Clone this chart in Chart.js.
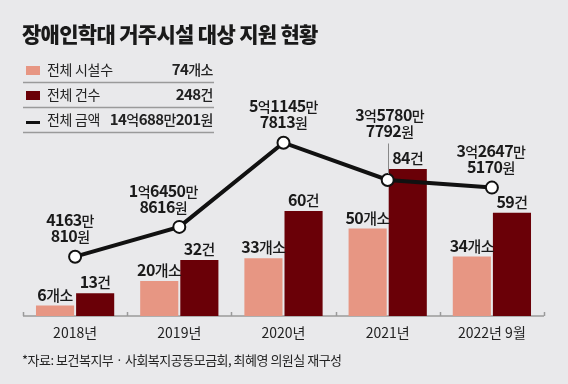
<!DOCTYPE html>
<html>
<head>
<meta charset="utf-8">
<script src="https://cdn.jsdelivr.net/npm/chart.js@4.4.1/dist/chart.umd.min.js"></script>
<style>
    html, body { margin: 0; padding: 0; background: #e9e9eb; }
    #wrap { width: 568px; height: 384px; }
</style>
</head>
<body>
<div id="wrap"><canvas id="myChart" width="568" height="384"></canvas></div>
<script>
const years = ['2018년', '2019년', '2020년', '2021년', '2022년 9월'];
const facilities = [6, 20, 33, 50, 34];
const cases = [13, 32, 60, 84, 59];
// 원 단위
const amounts = [41630810, 164508616, 511457813, 357807792, 326475170];
const legendNames = ['전체 시설수', '전체 건수', '전체 금액'];
const legendTotals = ['74개소', '248건', '14억688만201원'];

const FONT = '"Noto Sans CJK KR", "Noto Sans", sans-serif';
const SALMON = '#e79683';
const DARKRED = '#6a0007';

// 금액 -> ['5억1145만', '7813원']
function wonLabel(v) {
    const eok = Math.floor(v / 1e8);
    const man = Math.floor((v % 1e8) / 1e4);
    const won = v % 1e4;
    return [(eok ? eok + '억' : '') + man + '만', won + '원'];
}

// 숫자는 굵게, 글자는 보통
function drawMixed(c, text, x, y, align, numSize, txtSize) {
    const parts = text.match(/[0-9]+|[^0-9]+/g);
    const fonts = parts.map(p => /[0-9]/.test(p)
        ? 'bold ' + numSize + 'px ' + FONT
        : '500 ' + txtSize + 'px ' + FONT);
    let total = 0;
    const widths = parts.map((p, i) => {
        c.font = fonts[i];
        c.letterSpacing = /[0-9]/.test(p) ? '-0.6px' : '-0.5px';
        const w = c.measureText(p).width;
        total += w;
        return w;
    });
    let sx = align === 'center' ? x - total / 2 : align === 'right' ? x - total : x;
    c.textAlign = 'left';
    c.textBaseline = 'alphabetic';
    parts.forEach((p, i) => {
        c.font = fonts[i];
        c.letterSpacing = /[0-9]/.test(p) ? '-0.6px' : '-0.5px';
        c.fillText(p, sx, y);
        sx += widths[i];
    });
    c.letterSpacing = '0px';
}

const decor = {
    id: 'decor',
    beforeDraw(chart) {
        const c = chart.ctx;
        c.save();
        c.fillStyle = '#e9e9eb';
        c.fillRect(0, 0, chart.width, chart.height);

        // 제목
        c.fillStyle = '#1a1a1a';
        c.font = '900 21px ' + FONT;
        c.letterSpacing = '-0.7px';
        c.textBaseline = 'middle';
        c.fillText('장애인학대 거주시설 대상 지원 현황', 22, 34);
        c.letterSpacing = '0px';

        // 범례
        const rows = [70, 95, 120];
        rows.forEach((ry, i) => {
            if (i === 0) { c.fillStyle = SALMON; c.fillRect(26, ry - 4, 14, 9); }
            if (i === 1) { c.fillStyle = DARKRED; c.fillRect(26, ry - 4, 14, 9); }
            if (i === 2) { c.fillStyle = '#111'; c.fillRect(26, ry + 1, 14, 3); }
            c.fillStyle = '#222';
            c.font = '14px ' + FONT;
            c.letterSpacing = '-0.3px';
            c.textBaseline = 'middle';
            c.fillText(legendNames[i], 47, ry);
            c.letterSpacing = '0px';
            drawMixed(c, legendTotals[i], 213, ry + 5, 'right', 15, 14);
            c.strokeStyle = '#9a9a9a';
            c.lineWidth = 1.5;
            c.beginPath();
            c.moveTo(23, ry + 12.5);
            c.lineTo(214, ry + 12.5);
            c.stroke();
        });

        // 출처
        c.fillStyle = '#222';
        c.font = '13px ' + FONT;
        c.letterSpacing = '-0.5px';
        c.textBaseline = 'middle';
        c.fillText('*자료: 보건복지부 · 사회복지공동모금회, 최혜영 의원실 재구성', 22, 360);
        c.restore();
    },
    beforeDatasetsDraw(chart) {
        // x축 선과 눈금
        const c = chart.ctx;
        const a = chart.chartArea;
        const n = years.length;
        c.save();
        c.strokeStyle = '#9a9a9a';
        c.lineWidth = 1.5;
        c.beginPath();
        c.moveTo(a.left, a.bottom);
        c.lineTo(a.right, a.bottom);
        for (let i = 0; i <= n; i++) {
            const x = Math.round(a.left + i * (a.right - a.left) / n) + 0.5;
            c.moveTo(x, a.bottom);
            c.lineTo(x, a.bottom - 4);
        }
        c.stroke();
        c.restore();
    },
    afterDatasetsDraw(chart) {
        const c = chart.ctx;
        c.save();
        c.fillStyle = '#1a1a1a';
        // 막대 라벨
        const suffix = ['개소', '건'];
        [0, 1].forEach(d => {
            chart.getDatasetMeta(d).data.forEach((bar, i) => {
                const v = chart.data.datasets[d].data[i];
                drawMixed(c, v + suffix[d], bar.x, bar.y - 5, 'center', 16, 15);
            });
        });
        // 금액 라벨
        const lift = [20, 19, 20, 48, 20];
        const dx = [-5, -16, 0, 2, -1];
        chart.getDatasetMeta(2).data.forEach((pt, i) => {
            const lines = wonLabel(amounts[i]);
            const x = pt.x + dx[i];
            const y2 = pt.y - lift[i] + 5.5;
            if (i === 3) {
                c.strokeStyle = '#888';
                c.lineWidth = 1;
                c.beginPath();
                c.moveTo(Math.round(pt.x) + 0.5, y2 + 6);
                c.lineTo(Math.round(pt.x) + 0.5, pt.y - 6);
                c.stroke();
            }
            drawMixed(c, lines[0], x, y2 - 16, 'center', 16, 14);
            drawMixed(c, lines[1], x, y2, 'center', 16, 14);
        });
        c.restore();
    }
};

const ctx = document.getElementById('myChart');
const myChart = new Chart(ctx, {
    type: 'bar',
    data: {
        labels: years,
        datasets: [{
            label: '전체 시설수',
            data: facilities,
            backgroundColor: SALMON,
            yAxisID: 'y',
            order: 1,
            barPercentage: 0.95,
            categoryPercentage: 0.77
        }, {
            label: '전체 건수',
            data: cases,
            backgroundColor: DARKRED,
            yAxisID: 'y',
            order: 1,
            barPercentage: 0.95,
            categoryPercentage: 0.77
        }, {
            type: 'line',
            label: '전체 금액',
            data: amounts,
            yAxisID: 'y2',
            order: 0,
            borderColor: '#111',
            borderWidth: 4,
            tension: 0,
            pointRadius: 6,
            pointBorderWidth: 2,
            pointBackgroundColor: '#fff',
            pointBorderColor: '#111'
        }]
    },
    options: {
        responsive: false,
        animation: false,
        layout: {
            padding: { left: 23, right: 24, top: 60, bottom: 38 }
        },
        plugins: {
            legend: { display: false },
            tooltip: { enabled: false }
        },
        scales: {
            x: {
                grid: { display: false, drawTicks: false },
                border: { display: false },
                ticks: {
                    color: '#222',
                    padding: 8,
                    font: { family: FONT, size: 14 }
                },
                afterFit: function (s) { s.height = 30; }
            },
            y: {
                display: false,
                min: 0,
                max: 146.3
            },
            y2: {
                display: false,
                min: -202800000,
                max: 852400000
            }
        }
    },
    plugins: [decor]
});
</script>
</body>
</html>
